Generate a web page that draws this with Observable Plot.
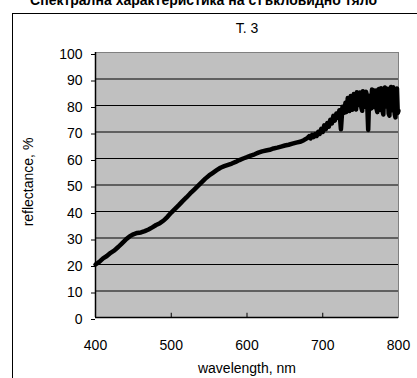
<!DOCTYPE html>
<html><head><meta charset="utf-8">
<script src="https://cdn.jsdelivr.net/npm/d3@7"></script>
<script src="https://cdn.jsdelivr.net/npm/@observablehq/plot@0.6"></script>
<style>
body{margin:0;background:#fff;}
#wrap{position:relative;width:417px;height:378px;overflow:hidden;font-family:"Liberation Sans",Arial,sans-serif;}
#title{position:absolute;right:40px;top:-8px;font:bold 14px "Liberation Sans",Arial,sans-serif;white-space:nowrap;color:#000;}
#border{position:absolute;left:12px;top:13px;width:420px;height:400px;border-left:1px solid #000;border-top:1px solid #000;}
#wrap svg{position:absolute;left:0;top:0;}
</style></head>
<body>
<div id="wrap"><div id="border"></div><div id="title">Спектрална характеристика на стъкловидно тяло</div></div>
<script>
const chartTitle = "T. 3";
const xLabel = "wavelength, nm";
const yLabel = "reflectance, %";
const xTicks = [400, 500, 600, 700, 800];
const yTicks = [0, 10, 20, 30, 40, 50, 60, 70, 80, 90, 100];
const wavelength = [
  400,405,410,415,420,425,430,435,440,445,450,455,460,465,470,475,480,485,490,495,
  500,505,510,515,520,525,530,535,540,545,550,555,560,565,570,575,580,585,590,595,
  600,605,610,615,620,625,630,635,640,645,650,655,660,665,670,675,
  680,682,684,686,688,690,692,694,696,698,700,702,704,706,708,710,712,714,716,718,
  720,722,724,726,728,
  730,731,732,733,734,735,736,737,738,739,740,741,742,743,744,745,746,747,748,749,
  750,751,752,753,754,755,756,757,758,759,760,761,762,763,764,765,766,767,768,769,
  770,771,772,773,774,775,776,777,778,779,780,781,782,783,784,785,786,787,788,789,
  790,791,792,793,794,795,796,797,798,799,800
];
const reflectance = [
  20.0,21.0,22.3,23.2,24.4,25.3,26.6,28.0,29.4,30.6,31.4,31.9,32.1,32.6,33.2,34.0,34.9,35.6,36.6,38.0,
  39.6,41.0,42.4,43.9,45.3,46.8,48.2,49.6,51.0,52.4,53.6,54.6,55.6,56.5,57.1,57.6,58.1,58.7,59.4,60.0,
  60.5,61.1,61.6,62.2,62.7,63.0,63.3,63.8,64.1,64.5,64.9,65.2,65.6,66.0,66.3,66.9,
  67.8,68.4,67.6,68.9,68.1,69.2,68.5,70.1,69.3,71.2,70.0,72.5,71.1,73.4,72.0,74.6,73.2,76.1,74.3,77.0,
  75.4,78.2,71.0,79.5,77.2,
  81.0,77.5,78.1,82.8,82.3,77.9,79.0,83.6,83.1,78.4,79.8,84.3,84.0,79.1,78.5,85.0,84.6,80.7,80.2,84.9,
  83.5,79.2,78.0,85.4,85.0,80.3,79.6,85.2,84.2,78.3,70.8,80.5,83.7,79.6,78.9,86.0,85.8,79.4,80.1,85.7,
  84.4,78.8,77.5,85.9,86.2,78.4,79.0,86.5,85.1,77.8,76.6,85.6,86.8,79.6,80.5,86.3,84.0,77.0,76.2,86.1,
  87.0,78.2,79.3,86.9,85.5,76.8,75.5,85.9,86.4,77.2,78.0
];
const data = wavelength.map((w, i) => ({w, r: reflectance[i]}));
const gridVals = yTicks.filter(v => v > 0 && v < 100);

const chart = Plot.plot({
  width: 417, height: 378,
  marginLeft: 95, marginRight: 19, marginTop: 52, marginBottom: 61,
  style: {background: "transparent", fontSize: "14px", fontFamily: "'Liberation Sans', Arial, sans-serif", color: "#000"},
  x: {domain: [400, 800]},
  y: {domain: [0, 100]},
  marks: [
    Plot.frame({fill: "#c0c0c0", stroke: "#808080"}),
    Plot.ruleY(gridVals, {stroke: "#000", strokeWidth: 1}),
    Plot.ruleX([400], {stroke: "#000", strokeWidth: 1.5}),
    Plot.ruleY([0], {stroke: "#000", strokeWidth: 1.5}),
    Plot.ruleX(xTicks.slice(1, -1), {y1: 0, y2: 1.6, stroke: "#000"}),
    Plot.axisY({ticks: yTicks, tickSize: 4, tickPadding: 9, label: null, dy: 2}),
    Plot.axisX({ticks: xTicks, tickSize: 0, tickPadding: 23, label: null}),
    Plot.line(data, {x: "w", y: "r", stroke: "#000", strokeWidth: 4.5, strokeLinejoin: "round", strokeLinecap: "round"}),
    Plot.text([chartTitle], {frameAnchor: "top", lineAnchor: "middle", dy: -24, fontSize: 14}),
    Plot.text([xLabel], {frameAnchor: "bottom", lineAnchor: "middle", dy: 51, fontSize: 14}),
    Plot.text([yLabel], {frameAnchor: "left", textAnchor: "middle", lineAnchor: "middle", dx: -67, dy: -3, rotate: -90, fontSize: 14})
  ]
});
document.getElementById("wrap").appendChild(chart);
</script>
</body></html>
